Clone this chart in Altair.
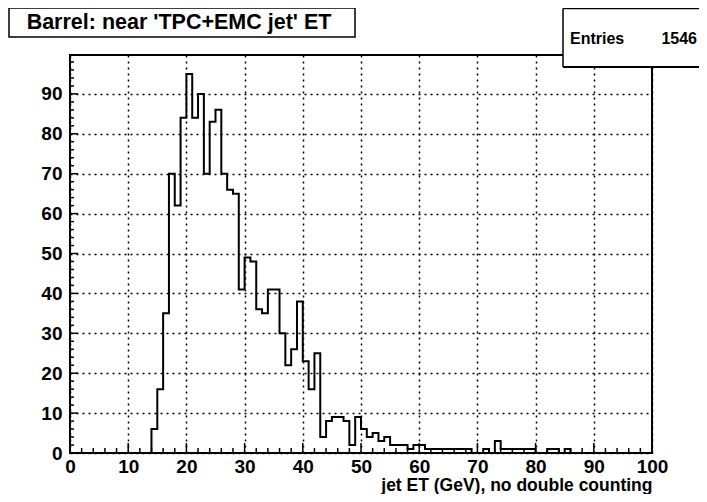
import altair as alt
import pandas as pd

# ---- data ----
bin_low = list(range(0, 100))            # 1 GeV bins, 0..100 GeV
counts = [0, 0, 0, 0, 0, 0, 0, 0, 0, 0,
          0, 0, 0, 0, 6, 16, 35, 70, 62, 84,
          95, 84, 90, 70, 83, 86, 70, 66, 65, 41,
          49, 48, 36, 35, 41, 41, 30, 22, 26, 38,
          23, 16, 25, 4, 8, 9, 9, 8, 2, 9,
          6, 4, 5, 3, 4, 2, 2, 2, 1, 2,
          2, 1, 1, 1, 1, 1, 1, 1, 1, 0,
          0, 1, 0, 3, 1, 1, 1, 1, 1, 1,
          0, 0, 1, 1, 0, 1, 0, 0, 0, 0,
          0, 0, 0, 0, 0, 0, 0, 0, 0, 0]
x_major = [0, 10, 20, 30, 40, 50, 60, 70, 80, 90, 100]
x_minor = [v for v in range(0, 101, 2) if v % 10]
y_major = [0, 10, 20, 30, 40, 50, 60, 70, 80, 90]
y_minor = [v for v in range(0, 100, 2) if v % 10]
title_text = "Barrel: near 'TPC+EMC jet' ET"
x_title = "jet ET (GeV), no double counting"
stats_label = "Entries"
stats_value = "1546"
y_top = 99.75

W, H = 582, 398
FONT = "Liberation Sans"

df = pd.DataFrame({"x": bin_low + [100], "y": counts + [counts[-1]]})
xs = alt.Scale(domain=[0, 100], nice=False, zero=False)
ys = alt.Scale(domain=[0, y_top], nice=False)

x_axis = alt.Axis(
    values=x_major, ticks=False, domain=False, grid=True,
    gridColor="black", gridDash=[2, 4], gridWidth=1.5, gridOpacity=1,
    labelFlush=False, labelOverlap=False, labelPadding=4,
    labelFont=FONT, labelFontWeight="bold", labelFontSize=19, labelColor="black",
    title=x_title, titleFont=FONT, titleFontWeight="bold", titleFontSize=17.5,
    titleColor="black", titleAnchor="end", titleAlign="right",
    titleX=W, titleY=37, titleBaseline="alphabetic")
y_axis = alt.Axis(
    values=y_major, ticks=False, domain=False, grid=True,
    gridColor="black", gridDash=[2, 4], gridWidth=1.5, gridOpacity=1,
    labelFlush=False, labelOverlap=False, labelPadding=8,
    labelFont=FONT, labelFontWeight="bold", labelFontSize=19, labelColor="black",
    title=None)

hist = alt.Chart(df).mark_line(
    interpolate="step-after", color="black", strokeWidth=2
).encode(
    x=alt.X("x:Q", scale=xs, axis=x_axis),
    y=alt.Y("y:Q", scale=ys, axis=y_axis),
)

xmaj_ticks = alt.Chart(pd.DataFrame({"x": x_major})).mark_rule(color="black", strokeWidth=1.5).encode(
    x=alt.X("x:Q", scale=xs, axis=x_axis), y=alt.value(H), y2=alt.value(H - 10))
xmin_ticks = alt.Chart(pd.DataFrame({"x": x_minor})).mark_rule(color="black", strokeWidth=1.5).encode(
    x=alt.X("x:Q", scale=xs, axis=x_axis), y=alt.value(H), y2=alt.value(H - 5))
ymaj_ticks = alt.Chart(pd.DataFrame({"y": y_major})).mark_rule(color="black", strokeWidth=1.5).encode(
    y=alt.Y("y:Q", scale=ys, axis=y_axis), x=alt.value(0), x2=alt.value(8))
ymin_ticks = alt.Chart(pd.DataFrame({"y": y_minor})).mark_rule(color="black", strokeWidth=1.5).encode(
    y=alt.Y("y:Q", scale=ys, axis=y_axis), x=alt.value(0), x2=alt.value(4))

one = pd.DataFrame({"t": [title_text], "s": [stats_label], "n": [stats_value]})

tbox = alt.Chart(one).mark_rect(
    fill="white", stroke="black", strokeWidth=1.5
).encode(x=alt.value(-61), x2=alt.value(285), y=alt.value(-47), y2=alt.value(-18))
ttext = alt.Chart(one).mark_text(
    font=FONT, fontWeight="bold", fontSize=21.5, align="center", baseline="middle", color="black"
).encode(text="t:N", x=alt.value(109), y=alt.value(-32))

sbox = alt.Chart(one).mark_rect(fill="white").encode(
    x=alt.value(493), x2=alt.value(640), y=alt.value(-46.5), y2=alt.value(12))
sline_left = alt.Chart(one).mark_rule(color="black", strokeWidth=1.5).encode(
    x=alt.value(493), y=alt.value(-46.5), y2=alt.value(12))
sline_top = alt.Chart(one).mark_rule(color="black", strokeWidth=1.5).encode(
    x=alt.value(493), x2=alt.value(640), y=alt.value(-46.5))
sline_bot = alt.Chart(one).mark_rule(color="black", strokeWidth=2).encode(
    x=alt.value(493), x2=alt.value(640), y=alt.value(12))
slabel = alt.Chart(one).mark_text(
    font=FONT, fontWeight="bold", fontSize=16, align="left", baseline="middle", color="black"
).encode(text="s:N", x=alt.value(500), y=alt.value(-16))
svalue = alt.Chart(one).mark_text(
    font=FONT, fontWeight="bold", fontSize=16, align="right", baseline="middle", color="black"
).encode(text="n:N", x=alt.value(627), y=alt.value(-16))

chart = alt.layer(
    hist, xmaj_ticks, xmin_ticks, ymaj_ticks, ymin_ticks,
    tbox, ttext, sbox, sline_left, sline_top, sline_bot, slabel, svalue
).properties(
    width=W, height=H,
    autosize=alt.AutoSizeParams(type="none"),
    padding={"left": 62, "top": 47, "right": 47, "bottom": 41},
    background="white",
).configure_view(stroke="black", strokeWidth=2)

chart.save("out.html", embed_options={"renderer": "svg", "actions": False})
